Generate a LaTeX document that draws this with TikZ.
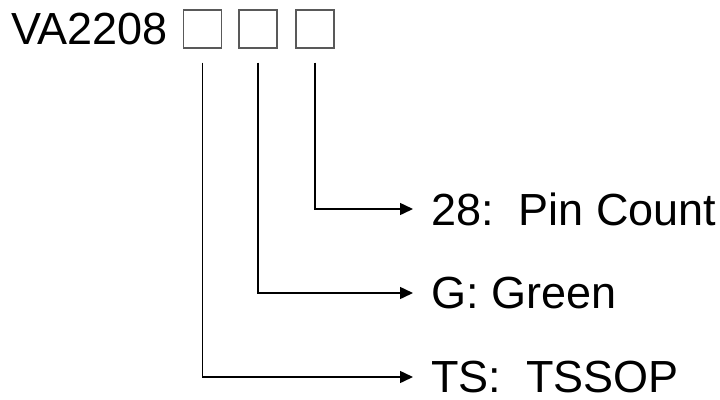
\documentclass[tikz,border=0pt]{standalone}
\usepackage{fontspec}
\setmainfont{Liberation Sans}
\usetikzlibrary{positioning, arrows.meta}

\begin{document}
\begin{tikzpicture}[
  x=1pt, y=-1pt,
  every node/.style={font=\fontsize{45}{52}\selectfont},
  slot/.style={draw=black!65, line width=1.1pt, minimum size=38pt, inner sep=0pt},
  field/.style={anchor=west, inner xsep=18pt, inner ysep=0pt},
  lead/.style={line width=1.5pt, -{Triangle[length=13pt, width=12pt]}}
]
\useasboundingbox (0,0) rectangle (720,399);
% part number with the three code slots
\node[anchor=base west, inner sep=0pt] (part) at (11,44) {VA2208};
\node[slot] (pkg) at (202.5,29) {};
\node[slot] (grn) at (258,29) {};
\node[slot] (pin) at (315,29) {};

% meaning of each slot
\node[field] (pinlbl) at (413,209) {28:\ \ Pin Count};
\node[field] (grnlbl) at (413,293) {G: Green};
\node[field] (pkglbl) at (413,377) {TS:\ \ TSSOP};

% leads
\draw[lead] ([yshift=-14pt]pin.south) |- (pinlbl.west);
\draw[lead] ([yshift=-14pt]grn.south) |- (grnlbl.west);
\draw[lead] ([yshift=-14pt]pkg.south) |- (pkglbl.west);
\end{tikzpicture}
\end{document}
